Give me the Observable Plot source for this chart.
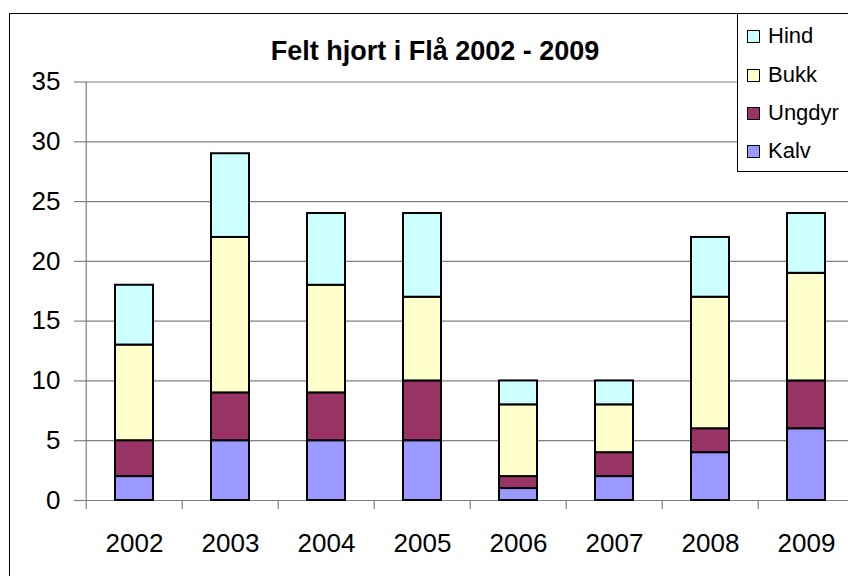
<!DOCTYPE html>
<html>
<head>
<meta charset="utf-8">
<script src="https://cdn.jsdelivr.net/npm/d3@7"></script>
<script src="https://cdn.jsdelivr.net/npm/@observablehq/plot@0.6"></script>
<style>
  html, body { margin: 0; padding: 0; background: white; }
  #wrap { position: relative; width: 848px; height: 576px; overflow: hidden; background: white;
          font-family: "Liberation Sans", Arial, sans-serif; }
  #border { position: absolute; left: 9px; top: 13px; width: 1000px; height: 1000px;
            border-left: 1px solid black; border-top: 1px solid black; }
  #chart { position: absolute; left: 0; top: 0; }
  #chart svg { background: none; }
  #title { position: absolute; left: 0; width: 870px; top: 38px; text-align: center;
           font-weight: bold; font-size: 27px; line-height: 27px; color: black; }
  #legend { position: absolute; left: 737px; top: 13px; width: 140px; height: 157px;
            border: 1px solid black; background: white; }
  .item { position: absolute; left: 9px; height: 24px; display: flex; align-items: center;
          font-size: 22px; line-height: 24px; color: black; }
  .sw { width: 11px; height: 11px; border: 1px solid black; margin-right: 8px; }
</style>
</head>
<body>
<div id="wrap">
  <div id="border"></div>
  <div id="chart"></div>
  <div id="title"></div>
  <div id="legend"></div>
</div>
<script>
const title = "Felt hjort i Flå 2002 - 2009";
const years = ["2002", "2003", "2004", "2005", "2006", "2007", "2008", "2009"];
const types = ["Kalv", "Ungdyr", "Bukk", "Hind"];
const colors = ["#9999FF", "#993366", "#FFFFCC", "#CCFFFF"];
const kalv   = [2, 5, 5, 5, 1, 2, 4, 6];
const ungdyr = [3, 4, 4, 5, 1, 2, 2, 4];
const bukk   = [8, 13, 9, 7, 6, 4, 11, 9];
const hind   = [5, 7, 6, 7, 2, 2, 5, 5];
const yTicks = [0, 5, 10, 15, 20, 25, 30, 35];
const legendOrder = ["Hind", "Bukk", "Ungdyr", "Kalv"];

const series = {Kalv: kalv, Ungdyr: ungdyr, Bukk: bukk, Hind: hind};
const data = [];
for (const t of types) years.forEach((y, i) => data.push({year: y, type: t, value: series[t][i]}));

const xRange = [84, 856];
const padIn = 0.6, padOut = 0.3;
const step = (xRange[1] - xRange[0]) / (years.length - padIn + 2 * padOut);
const gray = "#808080";

const plot = Plot.plot({
  width: 848,
  height: 576,
  marginLeft: 84,
  marginRight: 0,
  marginTop: 81.5,
  marginBottom: 76,
  style: {fontFamily: "'Liberation Sans', Arial, sans-serif", background: "none", overflow: "visible"},
  x: {type: "band", domain: years, range: xRange, paddingInner: padIn, paddingOuter: padOut, axis: null},
  y: {domain: [0, 35], axis: null},
  color: {domain: types, range: colors},
  marks: [
    Plot.gridY(yTicks, {stroke: gray, strokeOpacity: 1, strokeWidth: 1.2}),
    Plot.axisY(yTicks, {tickSize: 10, tickPadding: 14, fontSize: 26, stroke: gray, strokeWidth: 1.2, fill: "black", label: null}),
    Plot.ruleX([years[0]], {x: d => d, y1: 0, y2: 35, dx: -step / 2, stroke: gray, strokeWidth: 1.2}),
    Plot.ruleX(years, {x: d => d, y1: 0, y2: -0.75, dx: -step / 2, stroke: gray, strokeWidth: 1.2}),
    Plot.barY(data, {x: "year", y: "value", fill: "type", stroke: "black", strokeWidth: 2}),
    Plot.axisX(years, {tickSize: 0, tickPadding: 33, fontSize: 26, fill: "black", label: null})
  ]
});
document.getElementById("chart").appendChild(plot);
document.getElementById("title").textContent = title;

const legendTops = [35, 74, 112, 150];
const legend = document.getElementById("legend");
legendOrder.forEach((t, i) => {
  const it = document.createElement("div");
  it.className = "item";
  it.style.top = (legendTops[i] - 13 - 12) + "px";
  const sw = document.createElement("div");
  sw.className = "sw";
  sw.style.background = colors[types.indexOf(t)];
  const tx = document.createElement("span");
  tx.textContent = t;
  it.appendChild(sw);
  it.appendChild(tx);
  legend.appendChild(it);
});
</script>
</body>
</html>
